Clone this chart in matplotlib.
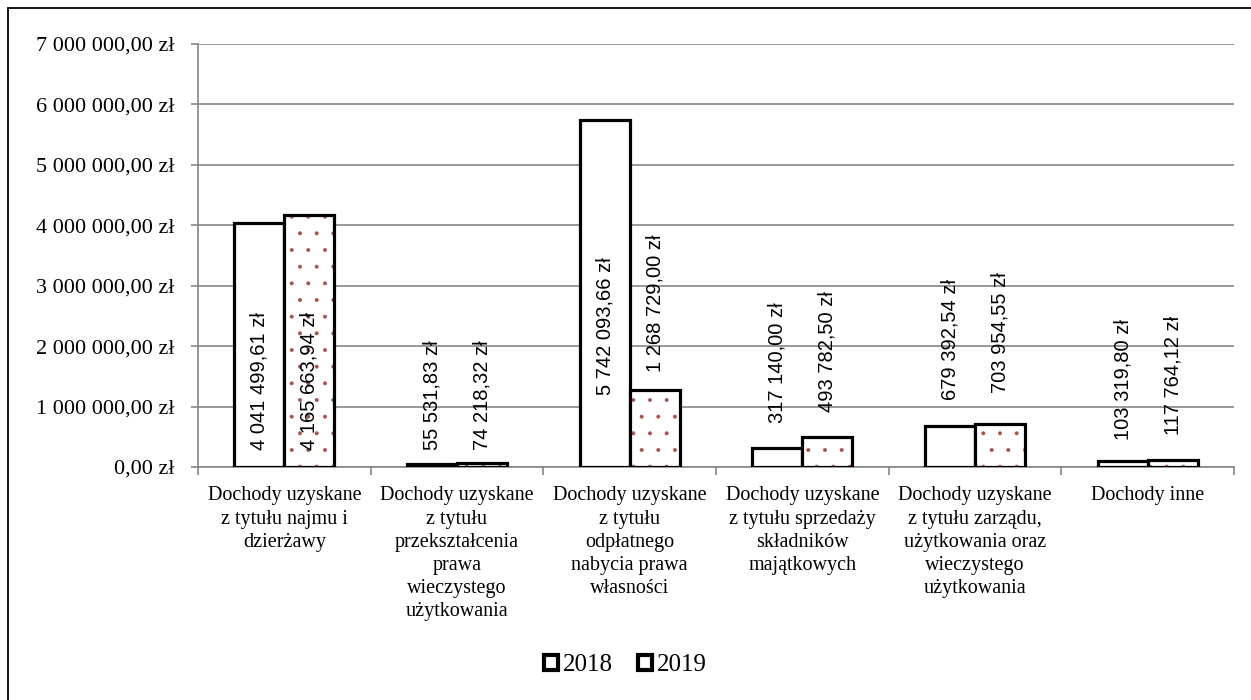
import matplotlib.pyplot as plt
from matplotlib.patches import Patch, Rectangle
import numpy as np

# categories and values
categories = [
    "Dochody uzyskane\nz tytułu najmu i\ndzierżawy",
    "Dochody uzyskane\nz tytułu\nprzekształcenia\nprawa\nwieczystego\nużytkowania",
    "Dochody uzyskane\nz tytułu\nodpłatnego\nnabycia prawa\nwłasności",
    "Dochody uzyskane\nz tytułu sprzedaży\nskładników\nmajątkowych",
    "Dochody uzyskane\nz tytułu zarządu,\nużytkowania oraz\nwieczystego\nużytkowania",
    "Dochody inne",
]
values_2018 = [4041499.61, 55531.83, 5742093.66, 317140.00, 679392.54, 103319.80]
values_2019 = [4165663.94, 74218.32, 1268729.00, 493782.50, 703954.55, 117764.12]
series_names = ["2018", "2019"]

# where the rotated data labels start (in zł), as placed in the original
label_base_2018 = [0.28e6, 0.28e6, 1.19e6, 0.73e6, 1.11e6, 0.45e6]
label_base_2019 = [0.28e6, 0.28e6, 1.57e6, 0.91e6, 1.23e6, 0.53e6]

y_ticks = [0, 1e6, 2e6, 3e6, 4e6, 5e6, 6e6, 7e6]

serif = "Liberation Serif"
sans = "Liberation Sans"
hatch_red = "#A5514E"
grid_gray = "#868686"

plt.rcParams["hatch.linewidth"] = 0.4


def zl(v):
    s = f"{v:,.2f}".replace(",", " ").replace(".", ",")
    return s + " zł"


fig = plt.figure(figsize=(12.51, 7.0), dpi=100)
ax = fig.add_axes([198 / 1251, 233 / 700, 1036 / 1251, 423 / 700])

x = np.arange(len(categories))
w = 0.29

# 2018 - plain white bars
ax.bar(x - w / 2, values_2018, w, color="white", edgecolor="black", linewidth=2.3, zorder=3)
# 2019 - dotted fill, then black outline on top
ax.bar(x + w / 2, values_2019, w, color="white", edgecolor=hatch_red, linewidth=0,
       hatch=".", zorder=3)
ax.bar(x + w / 2, values_2019, w, fill=False, edgecolor="black", linewidth=2.3, zorder=4)

for xi, v, b in zip(x - w / 2, values_2018, label_base_2018):
    ax.text(xi, b, zl(v), rotation=90, ha="center", va="bottom", fontsize=14.5,
            family=sans, zorder=5)
for xi, v, b in zip(x + w / 2, values_2019, label_base_2019):
    ax.text(xi, b, zl(v), rotation=90, ha="center", va="bottom", fontsize=14.5,
            family=sans, zorder=5)

ax.set_xlim(-0.5, len(categories) - 0.5)
ax.set_ylim(0, 7e6)
ax.set_yticks(y_ticks)
ax.set_yticklabels([zl(t) for t in y_ticks], family=serif, fontsize=16)
ax.yaxis.grid(True, color=grid_gray, linewidth=1.2, zorder=0)
ax.tick_params(axis="y", length=5, width=1.2, color=grid_gray, pad=12)

ax.set_xticks(x)
ax.set_xticklabels(categories, family=serif, fontsize=14.5, linespacing=1.3)
ax.set_xticks(np.arange(-0.5, len(categories)), minor=True)
ax.tick_params(axis="x", which="major", length=0, pad=14)
ax.tick_params(axis="x", which="minor", length=6, width=1.2, color=grid_gray)

for side in ["top", "right"]:
    ax.spines[side].set_visible(False)
for side in ["left", "bottom"]:
    ax.spines[side].set_color(grid_gray)
    ax.spines[side].set_linewidth(1.2)

handles = [
    Patch(facecolor="white", edgecolor="black", linewidth=3),
    Patch(facecolor="white", edgecolor="black", linewidth=3),
]
leg = fig.legend(handles, series_names, loc="center", bbox_to_anchor=(0.5, 1 - 665 / 700),
                 ncol=2, frameon=False, prop={"family": serif, "size": 18},
                 handlelength=0.55, handleheight=0.55, handletextpad=0.2, columnspacing=1.0)

# outer frame (only top and left edges are inside the picture)
fig.patches.append(Rectangle((8 / 1251, -0.5), 2, 1.5 - 8 / 700, transform=fig.transFigure,
                             fill=False, edgecolor="black", linewidth=1.3))

fig.savefig("out.png", dpi=100)
